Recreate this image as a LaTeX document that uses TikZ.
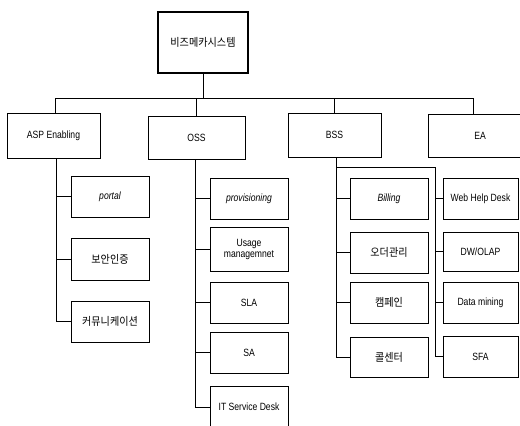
\documentclass[tikz,border=0pt]{standalone}
\usepackage{fontspec}
\setmainfont{Liberation Sans}[FakeStretch=0.82]
\newfontfamily\kr{Noto Sans CJK KR}[FakeStretch=0.92]
\begin{document}
\begin{tikzpicture}[x=1pt,y=-1pt,
  box/.style={draw, line width=0.6pt, inner sep=1pt, outer sep=0pt, align=center,
    font=\fontsize{10.5}{11}\selectfont},
  child/.style={box, minimum width=78pt, minimum height=41pt},
  eachild/.style={box, minimum width=75pt, minimum height=41pt},
  conn/.style={line width=0.6pt},
  kt/.style={font=\kr\fontsize{11}{12}\selectfont}]
\useasboundingbox (0,0) rectangle (520,426);
\clip (0,0) rectangle (520,426);
% top
\node[box, line width=1.3pt, minimum width=90pt, minimum height=61pt, kt] (top) at (203,42.5) {비즈메카시스템};
% level 2
\node[box, minimum width=93pt, minimum height=45pt] (asp) at (53.5,135.5) {ASP Enabling};
\node[box, minimum width=97pt, minimum height=43pt] (oss) at (196.5,137.5) {OSS};
\node[box, minimum width=93pt, minimum height=44pt] (bss) at (334.5,135) {BSS};
\node[box, minimum width=104pt, minimum height=43pt] (ea) at (480,135.5) {EA};
\coordinate (busL) at (55,98);
\coordinate (busR) at (473,98);
\draw[conn] (top.south) -- (top.south |- busL);
\draw[conn] (busL) -- (busR);
\draw[conn] (busL) -- (busL |- asp.north);
\draw[conn] (oss.north |- busL) -- (oss.north);
\draw[conn] (bss.north |- busL) -- (bss.north);
\draw[conn] (busR) -- (busR |- ea.north);
% ASP children
\node[child, font=\itshape\fontsize{10.5}{11}\selectfont] (portal) at (110,196.5) {portal};
\node[child, kt, minimum height=42pt] (sec) at (110,259) {보안인증};
\node[child, kt] (comm) at (110,321.5) {커뮤니케이션};
\coordinate (aT) at (56,0);
\draw[conn] (aT |- asp.south) -- (aT |- comm.west) -- (comm.west);
\draw[conn] (aT |- portal.west) -- (portal.west);
\draw[conn] (aT |- sec.west) -- (sec.west);
% OSS children
\node[child, font=\itshape\fontsize{10.5}{11}\selectfont] (prov) at (249,198.5) {provisioning};
\node[child, minimum height=44pt] (usage) at (249,249) {Usage\\managemnet};
\node[child] (sla) at (249,302.5) {SLA};
\node[child] (sa) at (249,352.5) {SA};
\node[child, minimum height=42pt] (itsd) at (249,407) {IT Service Desk};
\coordinate (oT) at (195,0);
\draw[conn] (oT |- oss.south) -- (oT |- itsd.west) -- (itsd.west);
\foreach \n in {prov,usage,sla,sa} \draw[conn] (oT |- \n.west) -- (\n.west);
% BSS children
\node[child, font=\itshape\fontsize{10.5}{11}\selectfont] (bill) at (389,198.5) {Billing};
\node[child, kt] (order) at (389,252.5) {오더관리};
\node[child, kt] (camp) at (389,302.5) {캠페인};
\node[child, kt, minimum height=40pt] (call) at (389,357) {콜센터};
\coordinate (bT) at (336,0);
\coordinate (eT) at (435,0);
\coordinate (split) at (336,167);
\draw[conn] (bT |- bss.south) -- (split) -- (eT |- split);
\draw[conn] (split) -- (bT |- call.west) -- (call.west);
\foreach \n in {bill,order,camp} \draw[conn] (bT |- \n.west) -- (\n.west);
% EA children
\node[eachild] (whd) at (480.5,198.5) {Web Help Desk};
\node[eachild, minimum height=39pt] (dw) at (480.5,251.5) {DW/OLAP};
\node[eachild] (dm) at (480.5,302.5) {Data mining};
\node[eachild] (sfa) at (480.5,356.5) {SFA};
\draw[conn] (eT |- split) -- (eT |- sfa.west) -- (sfa.west);
\foreach \n in {whd,dw,dm} \draw[conn] (eT |- \n.west) -- (\n.west);
\end{tikzpicture}
\end{document}
